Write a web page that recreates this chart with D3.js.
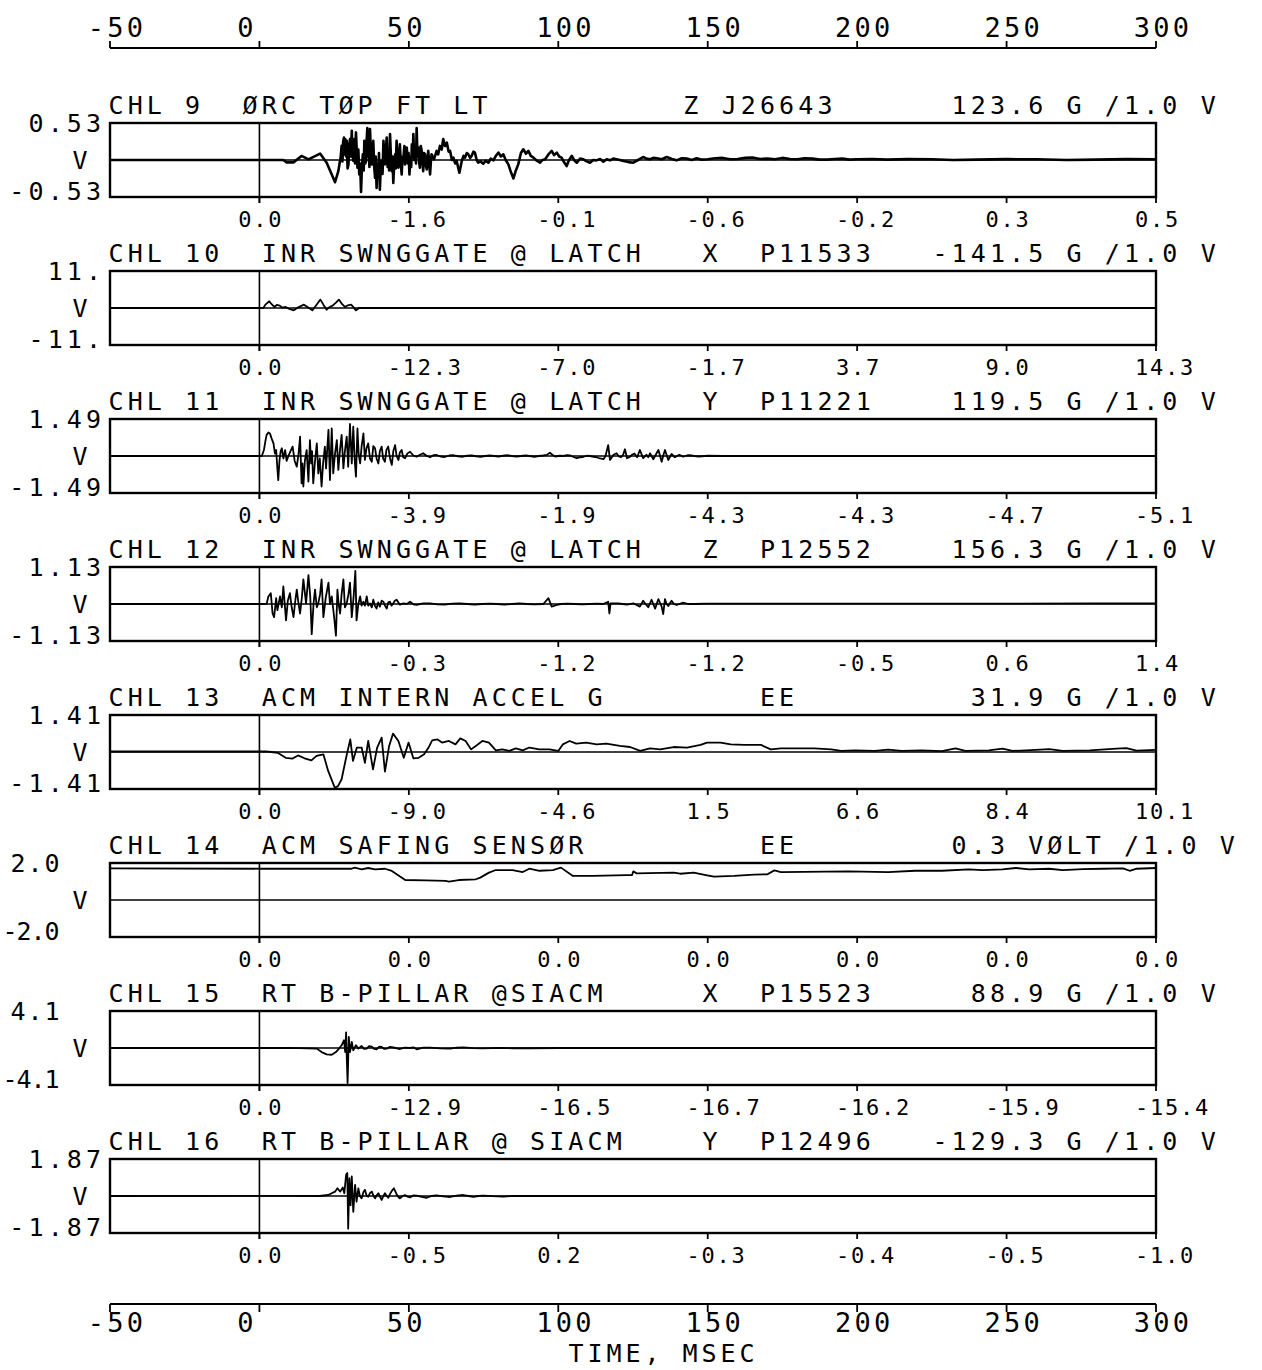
<!DOCTYPE html>
<html><head><meta charset="utf-8">
<script src="https://cdn.jsdelivr.net/npm/d3@7"></script>
<style>
html,body{margin:0;padding:0;background:#fff;}
svg{display:block;}
text{font-family:"DejaVu Sans Mono",monospace;fill:#000;}
</style></head><body>
<svg id="chart" width="1262" height="1370"></svg>
<script>
// ---------------- data ----------------
const timeTicks = [-50, 0, 50, 100, 150, 200, 250, 300];
const timeTickLabels = ["-50", "0", "50", "100", "150", "200", "250", "300"];
const xAxisTitle = "TIME, MSEC";

const titleSegments = [
  [[0,"CHL 9"],[7,"ØRC TØP FT LT"],[30,"Z"],[32,"J26643"],[44,"123.6 G /1.0 V"]],
  [[0,"CHL 10"],[8,"INR SWNGGATE @ LATCH"],[31,"X"],[34,"P11533"],[43,"-141.5 G /1.0 V"]],
  [[0,"CHL 11"],[8,"INR SWNGGATE @ LATCH"],[31,"Y"],[34,"P11221"],[44,"119.5 G /1.0 V"]],
  [[0,"CHL 12"],[8,"INR SWNGGATE @ LATCH"],[31,"Z"],[34,"P12552"],[44,"156.3 G /1.0 V"]],
  [[0,"CHL 13"],[8,"ACM INTERN ACCEL G"],[34,"EE"],[45,"31.9 G /1.0 V"]],
  [[0,"CHL 14"],[8,"ACM SAFING SENSØR"],[34,"EE"],[44,"0.3 VØLT /1.0 V"]],
  [[0,"CHL 15"],[8,"RT B-PILLAR @SIACM"],[31,"X"],[34,"P15523"],[45,"88.9 G /1.0 V"]],
  [[0,"CHL 16"],[8,"RT B-PILLAR @ SIACM"],[31,"Y"],[34,"P12496"],[43,"-129.3 G /1.0 V"]]
];

const fullScale = [0.53, 11, 1.49, 1.13, 1.41, 2.0, 4.1, 1.87];
const topRangeLabels = ["0.53", "11.", "1.49", "1.13", "1.41", "2.0", "4.1", "1.87"];
const bottomRangeLabels = ["-0.53", "-11.", "-1.49", "-1.13", "-1.41", "-2.0", "-4.1", "-1.87"];
const unitLabel = "V";

const valueTickLabels = [
  ["0.0","-1.6","-0.1","-0.6","-0.2","0.3","0.5"],
  ["0.0","-12.3","-7.0","-1.7","3.7","9.0","14.3"],
  ["0.0","-3.9","-1.9","-4.3","-4.3","-4.7","-5.1"],
  ["0.0","-0.3","-1.2","-1.2","-0.5","0.6","1.4"],
  ["0.0","-9.0","-4.6","1.5","6.6","8.4","10.1"],
  ["0.0","0.0","0.0","0.0","0.0","0.0","0.0"],
  ["0.0","-12.9","-16.5","-16.7","-16.2","-15.9","-15.4"],
  ["0.0","-0.5","0.2","-0.3","-0.4","-0.5","-1.0"]
];
const valueTickTimes = [0, 50, 100, 150, 200, 250, 300];

// traces: [time ms, volts]
const chl9 = [[-50,0],[0,0],[8,0],[9.1,-0.034],[11.4,-0.034],[14.1,0.058],[16.4,0.01],[20.3,0.092],[22.5,-0.039],[24.2,-0.207],[25.3,-0.318],[26.4,-0.159],
[27.2,0.05],[27.5,0.202],[27.8,-0.02],[28.0,0.26],[28.3,0.323],[28.5,0.08],[28.7,0.3],[29.0,0.05],[29.2,0.275],[29.5,-0.12],[29.8,-0.063],[30.0,0.2],[30.3,0.299],[30.6,0.05],[30.9,0.419],[31.1,0.1],[31.4,-0.014],[31.7,0.3],[32.0,-0.05],[32.3,0.395],[32.6,0.1],[32.8,-0.111],[33.1,0.15],[33.4,-0.207],[33.7,-0.05],[34.0,-0.458],[34.3,-0.1],[34.6,0.082],[34.9,-0.15],[35.1,0.275],[35.4,-0.05],[35.7,-0.014],[35.9,0.3],[36.1,0.458],[36.4,0.05],[36.6,0.178],[36.8,-0.1],[37.0,0.443],[37.3,0.1],[37.6,-0.063],[37.9,0.2],[38.1,0.275],[38.4,-0.1],[38.7,-0.255],[38.9,0.05],[39.2,-0.4],[39.5,-0.05],[39.8,-0.159],[40.0,0.1],[40.3,-0.424],[40.6,-0.1],[40.9,-0.014],[41.2,-0.2],[41.5,0.275],[41.8,0.0],[42.0,-0.063],[42.3,0.15],[42.6,0.323],[42.9,-0.1],[43.1,0.106],[43.4,-0.15],[43.7,0.371],[44.0,0.05],[44.3,-0.159],[44.5,0.05],[44.8,-0.328],[45.1,-0.05],[45.4,0.082],[45.6,-0.12],[45.9,0.275],[46.2,0.0],[46.5,-0.111],[46.8,0.1],[47.0,0.226],[47.3,-0.05],[47.6,-0.207],[47.9,0.05],[48.2,0.034],[48.5,0.2],[48.7,-0.063],[49.0,0.1],[49.3,0.178],[49.6,-0.05],[49.9,0.1],[50.2,-0.207],[50.5,0.05],[50.8,-0.1],[51.0,0.226],[51.3,0.05],[51.5,0.371],[51.8,0.0],[52.1,0.13],[52.4,-0.05],[52.6,0.458],[52.9,0.05],[53.2,0.178],[53.5,-0.05],[53.7,-0.111],[54.0,0.2],[54.3,0.13],[54.6,-0.05],[54.8,-0.159],[55.1,0.1],[55.4,0.082],[55.7,-0.08],[56.0,-0.135],[56.3,0.05],[56.5,0.13],[56.8,-0.05],[57.1,-0.207],[57.4,0.0],[57.6,0.082],
[58.4,0.01],[59.3,0.13],[59.8,0.08],[60.4,0.202],[61.0,0.15],[61.5,0.299],[62.1,0.2],[62.7,0.25],[63.3,0.12],[63.8,0.13],[64.4,0.0],[64.9,0.034],[65.5,-0.05],[66.0,-0.014],[66.9,-0.183],[67.7,-0.014],[68.3,0.06],[68.8,0.034],[69.4,0.1],[69.9,0.082],[70.5,0.03],[71.0,0.058],[71.6,0.12],[72.1,0.106],[72.7,0.0],[73.2,-0.039],[74.0,-0.02],[74.9,-0.053],[75.7,-0.01],[76.6,-0.039],[77.4,0.02],[78.3,-0.005],[79.1,0.06],[80.0,0.106],[80.8,0.05],[81.6,0.082],[82.4,0.0],[83.3,-0.063],[84.2,-0.18],[85.0,-0.265],[85.8,-0.15],[86.6,-0.063],[87.5,0.1],[88.3,0.154],[89.2,0.09],[90.0,0.13],[90.8,0.06],[91.7,0.034],[92.8,-0.01],[93.9,-0.039],[94.7,0.0],[95.6,0.01],[96.7,0.08],[97.8,0.13],[98.6,0.07],[99.5,0.106],[100.3,0.05],[101.1,0.034],[101.9,-0.03],[102.8,-0.087],[103.6,0.0],[104.5,0.058],[105.3,0.0],[106.2,-0.039],[107.3,0.02],[108.4,0.01],[109.5,-0.02],[110.6,-0.039],[111.7,0.0],[112.8,-0.005],[114.0,0.015],[115.1,-0.024],[116.2,0.01],[117.3,-0.005],[118.4,0.02],[119.5,0.01],[120.6,0.0],[121.8,-0.014],[123.5,-0.03],[125.1,-0.039],[126.7,0.0],[128.4,0.043],[129.5,0.02],[130.7,0.01],[131.8,0.03],[133,0.025],[134.6,0.01],[136.3,0.043],[138,0.015],[139.6,-0.005],[141.3,0.025],[143,0.02],[144.6,0.0],[146.3,0.024],[148,0.005],[150,0.01],[152.5,0.025],[155,0.03],[157.5,0.01],[160,0.015],[162.5,0.03],[165,0.035],[167.5,0.015],[170,0.02],[172.5,0.01],[175,0.03],[177.5,0.015],[180,0.01],[182.5,0.025],[185,0.02],[187.5,0.005],[190,0.005],[192.5,0.015],[195,0.02],[197.5,0.005],[200,0.01],[205,0.015],[210,0.005],[217,0.012],[225,0.01],[232,0.0],[240,0.005],[250,0.012],[260,0.01],[270,0.0],[280,0.005],[290,0.012],[300,0.01]];

const chl10 = [[-50,0],[0.5,0],[1.3,0],[2.0,1.0],[3.3,2.0],[4.0,1.2],[5.0,0.3],[5.8,0.9],[6.8,0.7],[7.6,0.1],[8.8,0.3],[10,-0.3],[11.5,-0.7],[13,0.2],[14.9,1.0],[16.2,0.2],[17.7,-0.7],[19,0.8],[20.4,2.5],[21.4,1.0],[22.5,-0.5],[23.5,0.3],[24.5,0.7],[25.6,1.6],[26.6,2.5],[27.6,1.2],[28.6,0.3],[29.6,0.8],[30.7,1.0],[31.5,0.2],[32.3,-0.7],[33.4,0],[300,0]];

const chl11 = [[-50,0],[0.8,0],[1.5,0.24],[2.0,0.6],[2.4,0.85],[3.0,0.95],[3.5,0.91],[4.1,0.7],[4.7,0.51],[5.2,0.1],[5.6,0.24],[6.0,-0.5],[6.3,-0.97],[6.7,-0.2],[7.1,0.2],[7.5,0.31],[8.0,-0.1],[8.6,0.24],[9.1,-0.2],[9.7,0],[10.4,0.2],[11.1,0.38],[11.8,-0.2],[12.5,-0.43],[13.1,0.1],[13.6,0.78],[14.1,-1.1],[14.4,-0.3],[14.7,-1.23],[15.2,-0.2],[15.8,0.24],[16.1,-0.4],[16.4,-1.03],[16.9,0.64],[17.3,-0.3],[17.6,0.2],[18.0,-1.1],[18.6,-0.2],[19.2,0.51],[19.7,-0.7],[20.2,-0.1],[20.8,-1.23],[21.3,-0.3],[21.9,0.38],[22.3,-0.5],[22.7,0.3],[23.1,1.05],[23.6,-0.97],[24.2,1.11],[24.7,-0.7],[25.3,0.1],[25.9,0.64],[26.4,-0.56],[27.0,0.3],[27.5,0.85],[28.1,-0.5],[28.6,0.2],[29.2,0.78],[29.7,-0.43],[30.3,1.29],[30.9,-0.3],[31.4,1.18],[31.9,-0.2],[32.3,-0.83],[32.8,1.11],[33.2,0.1],[33.7,-0.3],[34.2,0.4],[34.8,0.91],[35.3,-0.16],[35.8,0.3],[36.4,0.51],[37.0,-0.1],[37.6,-0.23],[38.1,0.4],[38.7,0.31],[39.2,-0.1],[39.8,-0.3],[40.3,0.2],[40.9,0.38],[41.4,-0.1],[42.0,-0.23],[42.5,0.25],[43.1,0.38],[43.7,-0.1],[44.3,-0.36],[44.8,0.2],[45.4,0.44],[45.9,0.0],[46.5,-0.16],[47.0,0.15],[47.6,0.24],[48.1,-0.05],[48.7,-0.09],[49.5,0.1],[50.4,0.17],[51.5,0.02],[52.6,-0.03],[53.7,0.05],[54.8,0.11],[56.0,0.0],[57.1,-0.05],[58.2,0.03],[59.3,0.04],[60.6,-0.02],[62,-0.04],[63.5,0.02],[65,0.03],[66.5,-0.01],[68,-0.03],[69.5,0.01],[71,0.02],[72.5,-0.01],[74,-0.03],[75.5,0.0],[77,0.02],[78.5,0.0],[80,-0.02],[81.5,0.01],[83,0.03],[84.5,0.0],[86,-0.02],[87.5,0.0],[89,0.02],[90.5,0.0],[92,-0.03],[93.5,0.0],[95,0.02],[96.2,0.05],[97.2,0.13],[98.1,0.04],[99,-0.02],[100.4,0.01],[101.7,0],[102.9,0.03],[104,0.02],[105.1,-0.04],[106.2,-0.09],[107.4,-0.05],[108.5,-0.03],[109.6,0.01],[110.6,0],[111.8,-0.03],[113,-0.06],[114,-0.1],[115.1,-0.13],[115.8,0.0],[116.7,0.44],[117.3,-0.16],[118.5,0.05],[119.5,0.11],[120.3,-0.02],[121,-0.05],[121.7,0.05],[122.3,0.27],[123,-0.09],[124,-0.03],[124.8,0.06],[125.5,0.1],[126.4,-0.05],[127.3,0.24],[128.4,-0.09],[129.5,0.05],[130.1,-0.05],[130.7,0.11],[131.8,-0.13],[132.6,0.05],[133.5,0.24],[134.6,-0.23],[135.2,0.05],[135.7,0.24],[136.8,-0.16],[137.9,0.08],[139,-0.05],[140.5,0.05],[141.8,-0.03],[143,0.02],[144,0.03],[145.5,0.0],[147,-0.02],[150,0.01],[155,0],[300,0]];

const chl12 = [[-50,0],[2.4,0],[3.0,0.23],[3.8,0.33],[4.4,-0.29],[4.9,-0.4],[5.6,0.18],[6.0,-0.19],[6.9,0.23],[7.5,-0.1],[8.0,0.54],[8.9,-0.5],[9.5,0.1],[10.2,0.33],[10.8,-0.1],[11.4,-0.4],[12.0,0.1],[12.5,0.44],[13.1,0.0],[13.6,-0.29],[14.2,0.2],[14.7,0.75],[15.6,0.02],[16.4,0.88],[17.0,0.23],[17.5,-0.92],[18.1,0.0],[18.6,0.44],[19.2,-0.1],[19.7,0.02],[20.3,0.3],[20.8,0.75],[21.4,-0.4],[22.2,0.2],[23.1,0.65],[23.6,0.0],[24.2,0.23],[25.0,-0.4],[25.6,-0.97],[26.1,0.44],[26.5,0.0],[27.0,-0.29],[27.5,0.3],[28.1,0.75],[28.6,-0.1],[29.2,0.02],[29.8,0.3],[30.3,0.65],[30.9,-0.4],[31.5,0.2],[32.1,1.01],[32.5,-0.5],[33.1,0.0],[33.7,0.23],[34.2,-0.05],[34.8,0.07],[35.3,-0.05],[35.9,0.23],[36.4,-0.05],[37.0,0.02],[37.6,-0.1],[38.1,0.13],[38.6,-0.05],[39.2,-0.14],[39.7,0.05],[40.3,-0.08],[40.9,0.1],[41.5,0.07],[42.0,-0.05],[42.6,-0.14],[43.1,0.05],[43.7,0.07],[44.2,-0.05],[44.8,0.02],[45.3,0.1],[45.9,0.13],[47.0,-0.02],[48.2,0.02],[49.3,0.0],[50.4,0.07],[51.5,-0.01],[52.6,-0.03],[54.8,0.02],[57.1,0.02],[59.5,-0.01],[62,-0.02],[64.5,0.01],[67,0.02],[69.5,0.0],[72,-0.02],[74.5,0.0],[77,0.01],[79.5,0.0],[82,-0.02],[84.5,0.0],[87,0.02],[89.5,0.0],[92,-0.01],[95,0],[96.7,0.18],[97.8,-0.08],[99.5,-0.03],[101,0.0],[103,0.01],[105.5,0.0],[108,-0.01],[110.5,0.0],[113,0.01],[115,0.0],[116.7,0.07],[117.1,-0.29],[117.5,0.02],[120,0.02],[121.5,0.0],[123,-0.02],[125.1,0.02],[126.2,-0.03],[127.3,-0.08],[128.4,0.1],[129.2,0.0],[130.1,-0.1],[131.2,0.13],[131.8,0.0],[132.4,-0.14],[133.5,0.15],[134.6,-0.08],[135.1,-0.31],[135.7,0.15],[136.2,0.0],[136.8,-0.06],[137.9,0.1],[138.7,0.0],[139.6,-0.03],[141.8,0.04],[143.5,0.0],[145.2,0],[150,0.01],[200,0.01],[250,0.01],[280,0.02],[300,0.02]];

const chl13 = [[-50,0.02],[0,0.02],[2,0.02],[4,0.0],[6.1,-0.03],[8.8,-0.22],[11.1,-0.25],[12.9,-0.13],[15.1,-0.24],[17.4,-0.32],[19.1,-0.15],[21.4,-0.09],[23.0,-0.72],[25.2,-1.36],[26.3,-1.3],[27.5,-1.04],[29.0,-0.22],[30.4,0.48],[31.3,-0.34],[32.6,0.17],[34.2,0.17],[35.3,-0.41],[36.4,0.42],[38.0,-0.66],[39.4,0.17],[40.9,0.55],[42.0,-0.75],[43.4,0.23],[44.7,0.7],[46.5,0.42],[48.3,-0.22],[49.9,0.36],[51.5,-0.24],[53.3,-0.22],[55.1,-0.09],[56.6,0.17],[57.8,0.44],[59.6,0.48],[61.1,0.36],[63.4,0.42],[65.6,0.29],[67.2,0.52],[69.0,0.42],[70.8,0.1],[72.4,0.23],[74.6,0.42],[76.8,0.36],[79.1,0.06],[81.3,0.1],[83.6,0.04],[85.8,0.14],[88.1,0.06],[90.3,0.17],[93.7,0.1],[97.0,0.1],[100.0,0.04],[101.5,0.29],[103.8,0.42],[106.0,0.32],[109.4,0.36],[112.8,0.29],[116.1,0.32],[120.6,0.23],[124.0,0.19],[127.4,0.04],[130.7,0.14],[134.1,0.1],[138.6,0.19],[143.1,0.17],[147.6,0.27],[149.8,0.36],[154.3,0.36],[157.7,0.29],[162.2,0.27],[167.8,0.27],[171.1,0.1],[174.5,0.14],[179.0,0.14],[185.7,0.14],[191.3,0.1],[194.7,0.04],[199.2,0.06],[205.9,0.04],[210.4,0.09],[214.9,0.04],[221.6,0.06],[228.4,0.03],[232.9,0.14],[236.2,0.04],[244.1,0.06],[248.6,0.13],[252.0,0.04],[259.8,0.08],[264.3,0.11],[268.8,0.04],[277.8,0.06],[286.8,0.13],[290.1,0.15],[293.5,0.05],[300,0.08]];

const chl14 = [[-50,1.71],[0,1.69],[30.8,1.69],[31.9,1.75],[34.2,1.66],[36.4,1.73],[38.7,1.66],[42.0,1.69],[44.3,1.57],[48.8,1.08],[55.5,1.06],[62.3,1.03],[63.4,0.99],[66.7,1.08],[72.4,1.12],[73.9,1.21],[76.8,1.48],[79.1,1.62],[84.7,1.62],[88.1,1.51],[90.3,1.69],[93.7,1.58],[98.2,1.62],[100.9,1.75],[104.9,1.3],[111.6,1.3],[122.9,1.35],[124.7,1.35],[125.1,1.55],[126.2,1.44],[138.6,1.48],[140.8,1.42],[145.3,1.48],[149.8,1.33],[152.1,1.26],[158.8,1.3],[165.5,1.37],[170.0,1.39],[172.3,1.6],[174.5,1.51],[197.0,1.55],[210.4,1.51],[219.4,1.58],[228.4,1.58],[237.4,1.66],[241.9,1.62],[248.6,1.66],[253.1,1.73],[257.6,1.66],[264.3,1.69],[268.8,1.62],[275.5,1.67],[282.3,1.69],[289.0,1.71],[291.2,1.58],[293.5,1.69],[300,1.73]];

const chl15 = [[-50,0],[0,0],[10,0.02],[19.2,-0.07],[20.8,-0.45],[22.5,-0.71],[24.2,-0.75],[25.6,-0.45],[26.4,-0.15],[27.5,0.3],[28.3,0.86],[28.7,-0.45],[29.0,1.72],[29.2,-0.82],[29.5,-3.88],[29.9,1.23],[30.3,-0.45],[30.9,0.67],[31.4,-0.26],[32.3,0.3],[33.1,-0.07],[34.2,0.22],[35.0,-0.1],[35.9,-0.07],[36.7,0.2],[37.6,0.15],[38.4,-0.1],[39.2,-0.15],[40.1,0.15],[40.9,0.11],[41.8,-0.1],[42.6,-0.07],[43.7,0.12],[44.8,0.07],[46.0,-0.05],[47.0,-0.11],[48.7,0.05],[50.4,0],[51.5,0.08],[52.6,-0.15],[54.8,0.05],[57.1,0.04],[60.5,-0.05],[63.8,-0.07],[66,0.03],[68.2,0.07],[71.5,-0.02],[74.9,-0.04],[80,0.02],[85,-0.03],[90,-0.03],[100,0],[300,0]];

const chl16 = [[-50,0],[10,0.01],[20,0],[23,0.05],[25.3,0.22],[26.1,0.39],[27.0,0.22],[27.9,0.43],[28.4,0.14],[29.0,1.07],[29.4,1.16],[29.7,-1.65],[30.1,0.9],[30.5,-0.46],[30.9,0.99],[31.4,-0.8],[32.0,0.56],[32.5,-0.29],[33.1,0.39],[33.6,0.0],[34.2,-0.12],[34.8,0.2],[35.3,0.31],[35.9,0.0],[36.4,-0.03],[37.0,0.15],[37.6,0.22],[38.2,0.0],[38.7,-0.12],[39.3,0.05],[39.8,0.14],[40.4,-0.05],[40.9,-0.2],[41.5,0.0],[42.0,0.14],[42.6,0.0],[43.1,-0.09],[43.7,0.1],[44.3,0.26],[45.0,0.39],[45.9,0.09],[46.5,-0.05],[47.0,-0.12],[47.9,0.0],[48.7,0.05],[49.5,-0.03],[50.4,-0.07],[51.5,0.03],[52.6,0.02],[54.3,-0.04],[56.0,-0.09],[57.6,0.0],[59.3,0.03],[61.5,-0.02],[63.8,-0.05],[66,0.02],[68.2,0.05],[70,0.0],[71.6,-0.05],[73.2,0.0],[74.9,0.02],[78,-0.01],[81.6,-0.03],[85,0.01],[90,0],[300,0]];

const traces = [chl9, chl10, chl11, chl12, chl13, chl14, chl15, chl16];

// ---------------- layout ----------------
const X0 = 110, X1 = 1156;
const x = d3.scaleLinear().domain([-50, 300]).range([X0, X1]);
const panelTop0 = 123, panelStep = 148, panelH = 74;
const ADV = 0.602;
const F_TITLE = 25, P_TITLE = 19.16;
const F_TICK = 22, P_TICK = 15;
const F_AXIS = 27, P_AXIS = 19.5;

const svg = d3.select("#chart");
svg.append("rect").attr("width", 1262).attr("height", 1370).attr("fill", "#fff");

function mono(str, firstCenter, baseline, F, P) {
  const a = ADV * F;
  return svg.append("text")
    .attr("x", firstCenter - a / 2)
    .attr("y", baseline)
    .attr("font-size", F)
    .attr("letter-spacing", (P - a).toFixed(2))
    .attr("xml:space", "preserve")
    .style("white-space", "pre")
    .text(str);
}
function buildLine(segs) {
  let s = "";
  for (const [i, t] of segs) { while (s.length < i) s += " "; s += t; }
  return s;
}
function hline(x1, x2, y, w) {
  svg.append("line").attr("x1", x1).attr("x2", x2).attr("y1", y).attr("y2", y)
    .attr("stroke", "#000").attr("stroke-width", w);
}
function vline(xx, y1, y2, w) {
  svg.append("line").attr("x1", xx).attr("x2", xx).attr("y1", y1).attr("y2", y2)
    .attr("stroke", "#000").attr("stroke-width", w);
}

// top axis
const topAxisY = 48;
hline(X0, X1, topAxisY, 2);
timeTicks.forEach((t, k) => {
  vline(x(t), topAxisY - 7, topAxisY, 1.8);
  mono(timeTickLabels[k], x(t) - 14, 37, F_AXIS, P_AXIS);
});

// bottom axis
const botAxisY = 1304;
hline(X0, X1, botAxisY, 2);
timeTicks.forEach((t, k) => {
  vline(x(t), botAxisY, botAxisY + 8, 1.8);
  mono(timeTickLabels[k], x(t) - 14, 1332, F_AXIS, P_AXIS);
});
mono(xAxisTitle, 576, 1362, 25, 19);

// panels
const line = d3.line();
titleSegments.forEach((segs, i) => {
  const top = panelTop0 + panelStep * i;
  const bottom = top + panelH;
  const y = d3.scaleLinear().domain([-fullScale[i], fullScale[i]]).range([bottom, top]);

  // title
  mono(buildLine(segs), 116, top - 9, F_TITLE, P_TITLE);

  // range labels
  const compact = (i === 5 || i === 6);
  const L = compact ? 52 : 93.5;
  const tl = topRangeLabels[i], bl = bottomRangeLabels[i];
  const pT = compact ? 17 : P_TITLE;
  const pB = compact ? 14 : P_TITLE;
  mono(tl, L - (tl.length - 1) * pT, top + 9, F_TITLE, pT);
  mono(bl, L - (bl.length - 1) * pB, bottom + 3, F_TITLE, pB);
  mono(unitLabel, 80, (top + bottom) / 2 + 9, F_TITLE, P_TITLE);

  // baseline
  hline(X0, X1, y(0), 1.6);
  // trace
  line.x(d => x(d[0])).y(d => y(d[1]));
  svg.append("path").datum(traces[i]).attr("d", line)
    .attr("fill", "none").attr("stroke", "#000")
    .attr("stroke-width", i === 0 ? 2.6 : 1.8).attr("stroke-linejoin", "round");
  // box
  svg.append("rect").attr("x", X0).attr("y", top).attr("width", X1 - X0).attr("height", panelH)
    .attr("fill", "none").attr("stroke", "#000").attr("stroke-width", 2.4);
  // zero line and ticks
  vline(x(0), top, bottom + 6, 1.6);
  valueTickTimes.forEach((t, k) => {
    vline(x(t), bottom, bottom + 6, 1.8);
    mono(valueTickLabels[i][k], x(t) - 14.5, bottom + 30, F_TICK, P_TICK);
  });
});
</script>
</body></html>
